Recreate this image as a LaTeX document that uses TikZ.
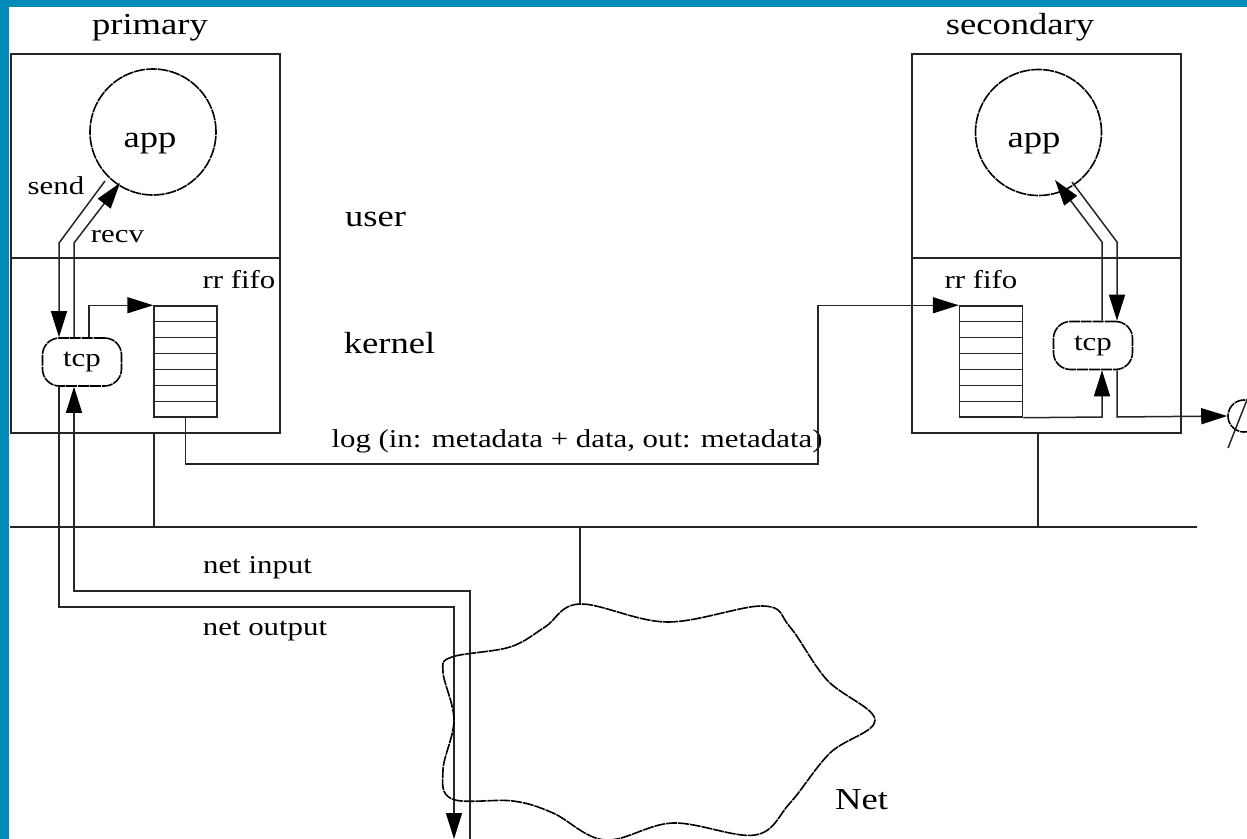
\documentclass[tikz,border=0pt]{standalone}
\usepackage{fontspec}
\setmainfont{Liberation Serif}[FakeStretch=1.2]
\usetikzlibrary{arrows.meta,calc}
\definecolor{frameblue}{RGB}{0,139,185}
\newcommand\bigtxt{\fontsize{30.5bp}{36bp}\selectfont}
\newcommand\smtxt{\fontsize{25.7bp}{30bp}\selectfont}
\begin{document}
\begin{tikzpicture}[x=1bp,y=-1bp,
  ln/.style={line width=1.5bp, draw=black!85},
  arr/.style={ln, -{Triangle[length=26bp,width=16bp,color=black]}},
  dsh/.style={line width=1.6bp, draw=black, dash pattern=on 11bp off 0.9bp},
  lbl/.style={inner sep=0, anchor=base, font=\smtxt},
  biglbl/.style={inner sep=0, anchor=base, font=\bigtxt},
  hostbox/.style={ln, rectangle, minimum width=269bp, minimum height=379bp, inner sep=0},
  fifobox/.style={ln, rectangle, minimum width=63bp, minimum height=111bp, inner sep=0},
  tcpbox/.style={dsh, rectangle, rounded corners=17bp, minimum width=79bp, minimum height=48bp, inner sep=0, font=\smtxt},
  appcirc/.style={dsh, circle, minimum size=126bp, inner sep=0},
  nullcirc/.style={dsh, circle, minimum size=32bp, inner sep=0}
]
\useasboundingbox (0,0) rectangle (1247,839);
\fill[white] (0,0) rectangle (1247,839);
\fill[frameblue] (0,0) rectangle (1247,7);
\fill[frameblue] (0,0) rectangle (8.5,839);

% host boxes
\node[hostbox] (pbox) at (145.5,243.5) {};
\node[hostbox] (sbox) at (1046.5,243.5) {};
\coordinate (div) at (0,258);
\draw[ln] (pbox.west |- div) -- (pbox.east |- div);
\draw[ln] (sbox.west |- div) -- (sbox.east |- div);

% labels
\node[biglbl] (plab) at (150,34) {primary};
\node[biglbl] (slab) at (1020,34) {secondary};
\node[biglbl] (user) at (375.5,226) {user};
\node[biglbl] (kern) at (389.5,353) {kernel};
\node[biglbl] (netlab) at (861.5,809) {Net};

% apps
\node[appcirc] (app1) at (153,132) {};
\node[biglbl] (app1t) at (150,147) {app};
\node[appcirc] (app2) at (1038.5,132.5) {};
\node[biglbl] (app2t) at (1034,147) {app};

% tcp
\node[tcpbox] (tcp1) at (82,362) {tcp};
\node[tcpbox] (tcp2) at (1093,345.5) {tcp};

% fifos
\node[fifobox] (fifo1) at (185.5,361.5) {};
\node[fifobox] (fifo2) at (991,361.5) {};
\foreach \f in {fifo1,fifo2}{
  \foreach \k in {1,...,6}{
    \draw[ln] ($(\f.north west)!\k/7!(\f.south west)$) -- ($(\f.north east)!\k/7!(\f.south east)$);
  }
}
\node[lbl] (rr1) at (239,288) {rr fifo};
\node[lbl] (rr2) at (981,288) {rr fifo};

% small labels
\node[lbl] (sendl) at (56,194) {send};
\node[lbl] (recvl) at (117.5,242) {recv};
\node[lbl] (logl) at (577,447) {log (in: metadata + data, out: metadata)};
\node[lbl] (nin) at (257.5,573) {net input};
\node[lbl] (nout) at (265,635) {net output};

% primary connectors
\coordinate (psb) at (59,243);
\coordinate (prb) at (74,243);
\coordinate (pst) at (105,181);
\coordinate (prt) at (120,183);
\draw[arr] (pst) -- (psb) -- (psb |- tcp1.north);
\draw[arr] (prb |- tcp1.north) -- (prb) -- (prt);
\coordinate (ptf) at (89,0);
\draw[arr] (ptf |- tcp1.north) |- (fifo1.north west);

% log line
\coordinate (logc) at (818,464);
\draw[arr] (fifo1.south) |- (logc) |- (fifo2.north west);

% bus
\coordinate (busL) at (10,527);
\coordinate (busR) at (1197,527);
\draw[ln] (busL) -- (busR);
\coordinate (pdrop) at (154,527);
\draw[ln] (pdrop |- pbox.south) -- (pdrop);
\coordinate (sdrop) at (1038,527);
\draw[ln] (sdrop |- sbox.south) -- (sdrop);
\coordinate (ndrop) at (580,527);
\coordinate (cloudtop) at (580,604);
\draw[ln] (ndrop) -- (cloudtop);

% net input / output
\coordinate (ni1) at (470,850);
\coordinate (ni2) at (74,591);
\draw[arr] (ni1) |- (ni2) -- (ni2 |- tcp1.south);
\coordinate (no1) at (59,607);
\coordinate (no2) at (454,839);
\draw[arr] (no1 |- tcp1.south) -- (no1) -| (no2);

% secondary connectors
\coordinate (slb) at (1102,242);
\coordinate (slt) at (1055,180);
\coordinate (srt) at (1072,182);
\coordinate (srb) at (1117,242);
\draw[arr] (slb |- tcp2.north) -- (slb) -- (slt);
\draw[arr] (srt) -- (srb) -- (srb |- tcp2.north);
\coordinate (sin) at (1102,417);
\draw[arr] (fifo2.south east) -- (sin) -- (sin |- tcp2.south);
\node[nullcirc] (null) at (1244,416) {};
\coordinate (sout) at (1117,417);
\draw[arr] (sout |- tcp2.south) -- (sout) -- (null.west);
\draw[ln] ($(null.center)+(-16,32)$) -- ($(null.center)+(10,-34)$);

% cloud
\draw[dsh] plot[smooth cycle, tension=0.6] coordinates {
  (cloudtop) (667,622) (763,606) (790,627) (827,680) (875,720) (830,753)
  (790,803) (755,835) (673,823) (605,840) (553,813) (513,801) (452,799)
  (443,770) (454,720) (443,672) (452,657) (510,647) (545,627)};
\end{tikzpicture}
\end{document}
